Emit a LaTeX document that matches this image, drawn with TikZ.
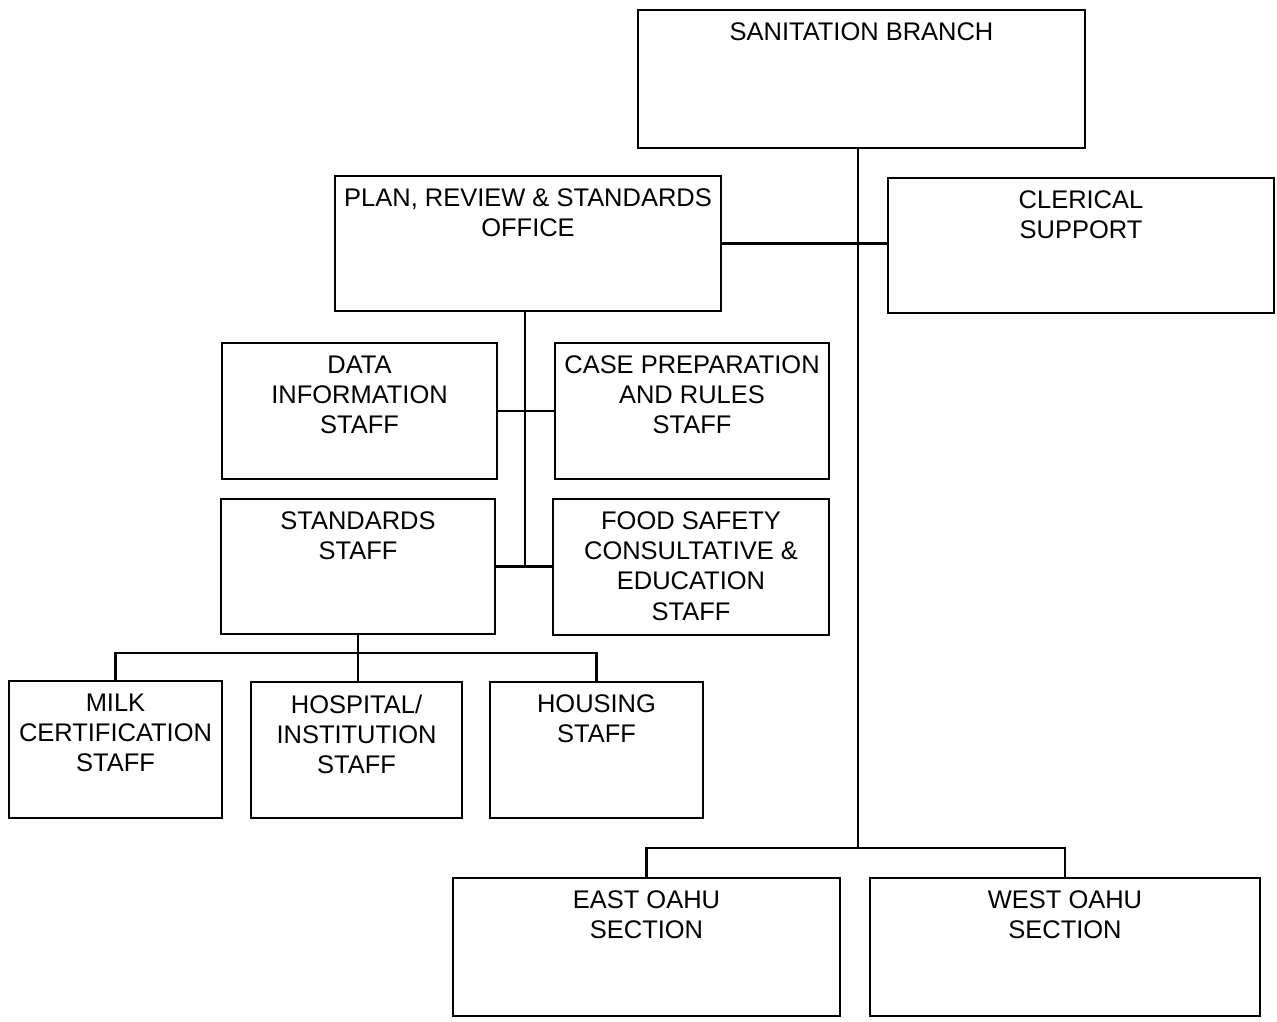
\documentclass[tikz,border=0pt]{standalone}
\usepackage{fontspec}
\setmainfont{Liberation Sans}
\usetikzlibrary{positioning, fit}

\begin{document}
\begin{tikzpicture}[
    x=0.02cm, y=-0.02cm,
    box/.style={rectangle, draw=black, line width=1.3pt, inner sep=0pt},
    lbl/.style={inner sep=0pt, align=center, font=\fontsize{14.5}{17.2}\selectfont},
    wire/.style={line width=1.3pt},
    node distance=0.27cm,
  ]
  \useasboundingbox (0,0) rectangle (1277,1021);

  % Boxes
  \node[box, fit={(638,10) (1085,148)}] (san) {};
  \node[box, fit={(888,178) (1274,313)}] (cler) {};
  \node[box, fit={(335,176) (721,311)}] (plan) {};
  \node[box, fit={(222,343) (497,479)}] (data) {};
  \node[box, fit={(555,343) (829,479)}] (case) {};
  \node[box, fit={(221,499) (495,634)}] (std) {};
  \node[box, fit={(553,499) (829,635)}] (food) {};
  \node[box, fit={(9,681) (222,818)}] (milk) {};
  \node[box, fit={(251,682) (462,818)}] (hosp) {};
  \node[box, fit={(490,682) (703,818)}] (house) {};
  \node[box, fit={(453,878) (840,1016)}] (east) {};
  \node[box, fit={(870,878) (1260,1016)}] (west) {};

  % Labels
  \node[lbl, below=of san.north] (sant) {SANITATION BRANCH};
  \node[lbl, below=of cler.north] (clert) {CLERICAL\\SUPPORT};
  \node[lbl, below=of plan.north] (plant) {PLAN, REVIEW \& STANDARDS\\OFFICE};
  \node[lbl, below=of data.north] (datat) {DATA\\INFORMATION\\STAFF};
  \node[lbl, below=of case.north] (caset) {CASE PREPARATION\\AND RULES\\STAFF};
  \node[lbl, below=of std.north] (stdt) {STANDARDS\\STAFF};
  \node[lbl, below=of food.north] (foodt) {FOOD SAFETY\\CONSULTATIVE \&\\EDUCATION\\STAFF};
  \node[lbl, below=of milk.north] (milkt) {MILK\\CERTIFICATION\\STAFF};
  \node[lbl, below=of hosp.north] (hospt) {HOSPITAL/\\INSTITUTION\\STAFF};
  \node[lbl, below=of house.north] (houset) {HOUSING\\STAFF};
  \node[lbl, below=of east.north] (eastt) {EAST OAHU\\SECTION};
  \node[lbl, below=of west.north] (westt) {WEST OAHU\\SECTION};

  % Bus points
  \coordinate (sbus) at (858,848);
  \coordinate (pbus) at (525,567);
  \coordinate (cbus) at (358,653);

  % Main line
  \draw[wire] (sbus |- san.south) -- (sbus);
  \draw[wire] (east.north) |- (sbus) -| (west.north);
  \draw[wire] (plan.east) -- (plan.east -| cler.west);

  % Plan office staff
  \draw[wire] (pbus |- plan.south) -- (pbus);
  \draw[wire] (data.east) -- (data.east -| case.west);
  \draw[wire] (std.east) -- (std.east -| food.west);

  % Standards staff
  \draw[wire] (cbus |- std.south) -- (cbus);
  \draw[wire] (milk.north) |- (cbus) -| (house.north);
  \draw[wire] (cbus) -- (cbus |- hosp.north);
\end{tikzpicture}
\end{document}
